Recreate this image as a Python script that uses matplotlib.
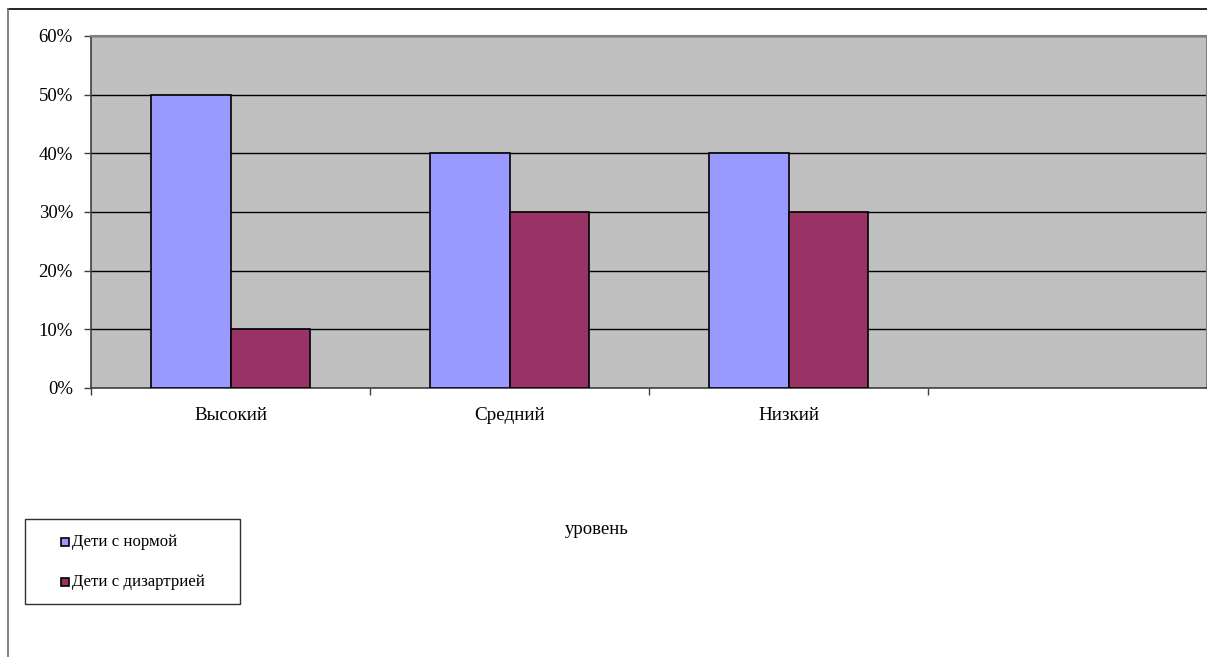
#! /usr/bin/env python3

import numpy as np
import matplotlib.pyplot as plt
from matplotlib.patches import Rectangle
from matplotlib.lines import Line2D
from matplotlib.ticker import FuncFormatter, FixedLocator

categories = ["Высокий", "Средний", "Низкий"]
series_names = ["Дети с нормой", "Дети с дизартрией"]
normal = [0.50, 0.40, 0.40]
dysarthria = [0.10, 0.30, 0.30]
x_label = "уровень"

NORMAL_COLOR = "#9999FF"
DYS_COLOR = "#993366"
PLOT_BG = "#C0C0C0"

W, H = 1207, 657

plt.rcParams['font.family'] = ['Liberation Serif', 'DejaVu Serif']

fig = plt.figure(figsize=(W / 100, H / 100), dpi=100)
fig.patch.set_facecolor("white")

# chart area outline (top and left edges)
fig.add_artist(Line2D([8 / W, 1], [1 - 9 / H, 1 - 9 / H], color="black", lw=1.2, transform=fig.transFigure))
fig.add_artist(Line2D([8 / W, 8 / W], [0, 1 - 9 / H], color="#707070", lw=1.2, transform=fig.transFigure))

ax = fig.add_axes([91 / W, (H - 388) / H, (W - 91) / W, (388 - 36) / H])
ax.set_facecolor(PLOT_BG)

bar_w = 1 / 3.5
x = np.arange(len(categories))
ax.bar(x - bar_w / 2, normal, bar_w, color=NORMAL_COLOR, edgecolor="black", linewidth=1.2, zorder=3)
ax.bar(x + bar_w / 2, dysarthria, bar_w, color=DYS_COLOR, edgecolor="black", linewidth=1.2, zorder=3)

ax.set_xlim(-0.5, 3.5)
ax.set_ylim(0, 0.6)
ax.set_yticks(np.arange(0, 0.61, 0.1))
ax.yaxis.set_major_formatter(FuncFormatter(lambda v, _: f"{v * 100:.0f}%"))
ax.grid(axis="y", color="black", lw=1, zorder=1)
ax.set_axisbelow(True)

ax.xaxis.set_major_locator(FixedLocator([-0.5, 0.5, 1.5, 2.5]))
ax.xaxis.set_minor_locator(FixedLocator(x))
ax.xaxis.set_major_formatter(FuncFormatter(lambda v, _: ""))
ax.set_xticklabels(categories, minor=True)
ax.tick_params(axis="x", which="minor", length=0, pad=14, labelsize=13.8)
ax.tick_params(axis="x", which="major", length=5, width=1, color="#404040")
ax.tick_params(axis="y", length=5, width=1, color="#404040", labelsize=13.5, pad=8)

for side in ["top", "right"]:
    ax.spines[side].set_color("#808080")
    ax.spines[side].set_linewidth(1.5)
ax.spines["left"].set_color("#404040")
ax.spines["bottom"].set_color("#404040")
ax.spines["left"].set_linewidth(1.2)
ax.spines["bottom"].set_linewidth(1.2)

fig.text(597 / W, 1 - 530 / H, x_label, ha="center", va="center", fontsize=13.5)

# legend box
fig.add_artist(Rectangle((25 / W, 1 - 604 / H), 215 / W, 85 / H, transform=fig.transFigure,
                         facecolor="white", edgecolor="#303030", lw=1))
for i, (name, col) in enumerate(zip(series_names, [NORMAL_COLOR, DYS_COLOR])):
    yc = 542 + 40 * i
    fig.add_artist(Rectangle((61 / W, 1 - (yc + 4) / H), 8 / W, 8 / H, transform=fig.transFigure,
                             facecolor=col, edgecolor="black", lw=1.2))
    fig.text(72 / W, 1 - yc / H, name, ha="left", va="center", fontsize=12.1)

fig.savefig("out.png", dpi=100)
